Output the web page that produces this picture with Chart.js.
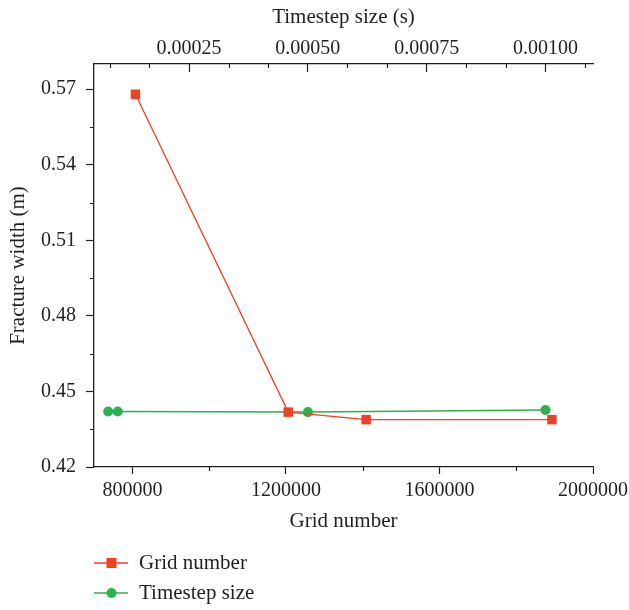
<!DOCTYPE html>
<html>
<head>
<meta charset="utf-8">
<script src="https://cdn.jsdelivr.net/npm/chart.js@4.4.0/dist/chart.umd.min.js"></script>
<style>
  html, body { margin: 0; padding: 0; background: #fff; }
  #wrap { width: 629px; height: 610px; }
</style>
</head>
<body>
<div id="wrap"><canvas id="chart" width="629" height="610"></canvas></div>
<script>
// grid-independence series (bottom axis)
const gridNumbers = [808000, 1206000, 1409000, 1893000];
const gridWidths = [0.568, 0.4418, 0.4388, 0.4388];
// timestep-independence series (top axis)
const timesteps = [0.00008, 0.0001, 0.0005, 0.001];
const timestepWidths = [0.4420, 0.4420, 0.4418, 0.4426];

// tick marks
const gridTicks = [800000, 1200000, 1600000, 2000000];
const gridMinorTicks = [1000000, 1400000, 1800000];
const timeTicks = [0.00025, 0.0005, 0.00075, 0.001];
const timeMinorTicks = [0.0000833, 0.0001667, 0.0003333, 0.0004167, 0.0005833,
  0.0006667, 0.0008333, 0.0009167, 0.0010833];
const widthTicks = [0.42, 0.45, 0.48, 0.51, 0.54, 0.57];
const widthMinorTicks = [0.435, 0.465, 0.495, 0.525, 0.555];

const ink = "#231f20";
const red = "#ef4123";
const green = "#2bb24c";
const serif = "'Liberation Serif', 'DejaVu Serif', serif";
const tickFont = { family: serif, size: 20 };
const titleFont = { family: serif, size: 21 };

const minorTicks = {
  id: "minorTicks",
  afterDraw(chart) {
    const ctx = chart.ctx;
    const { x, x2, y } = chart.scales;
    ctx.save();
    ctx.strokeStyle = ink;
    ctx.lineWidth = 1.2;
    ctx.beginPath();
    gridMinorTicks.forEach((v) => {
      const px = Math.round(x.getPixelForValue(v)) + 0.5;
      ctx.moveTo(px, x.top);
      ctx.lineTo(px, x.top + 4);
    });
    timeMinorTicks.forEach((v) => {
      const px = Math.round(x2.getPixelForValue(v)) + 0.5;
      ctx.moveTo(px, x2.bottom);
      ctx.lineTo(px, x2.bottom + 4);
    });
    widthMinorTicks.forEach((v) => {
      const py = Math.round(y.getPixelForValue(v)) + 0.5;
      ctx.moveTo(y.right, py);
      ctx.lineTo(y.right - 4, py);
    });
    ctx.stroke();
    ctx.restore();
  },
};

const stackedLegend = {
  id: "stackedLegend",
  afterDraw(chart) {
    const ctx = chart.ctx;
    ctx.save();
    chart.data.datasets.forEach((ds, i) => {
      const rowY = 563 + i * 30;
      ctx.strokeStyle = ds.borderColor;
      ctx.lineWidth = ds.borderWidth;
      ctx.beginPath();
      ctx.moveTo(94, rowY);
      ctx.lineTo(128, rowY);
      ctx.stroke();
      ctx.fillStyle = ds.backgroundColor;
      ctx.beginPath();
      if (ds.pointStyle === "rect") {
        ctx.rect(111.5 - 5, rowY - 5, 10, 10);
      } else {
        ctx.arc(111.5, rowY, 5, 0, Math.PI * 2);
      }
      ctx.fill();
      ctx.fillStyle = ink;
      ctx.font = `21px ${serif}`;
      ctx.textBaseline = "middle";
      ctx.textAlign = "left";
      ctx.fillText(ds.label, 139, rowY);
    });
    ctx.restore();
  },
};

new Chart(document.getElementById("chart"), {
  type: "line",
  data: {
    datasets: [
      {
        label: "Grid number",
        data: gridNumbers.map((g, i) => ({ x: g, y: gridWidths[i] })),
        xAxisID: "x",
        borderColor: red,
        backgroundColor: red,
        borderWidth: 1.3,
        pointStyle: "rect",
        pointRadius: 6.7,
        pointBorderWidth: 0,
        tension: 0,
      },
      {
        label: "Timestep size",
        data: timesteps.map((t, i) => ({ x: t, y: timestepWidths[i] })),
        xAxisID: "x2",
        borderColor: green,
        backgroundColor: green,
        borderWidth: 1.5,
        pointStyle: "circle",
        pointRadius: 5,
        pointBorderWidth: 0,
        tension: 0,
      },
    ],
  },
  options: {
    responsive: false,
    animation: false,
    layout: { padding: { left: 0, right: 36, top: 0, bottom: 76 } },
    plugins: {
      legend: { display: false },
      tooltip: { enabled: false },
    },
    scales: {
      x: {
        type: "linear",
        position: "bottom",
        min: 700000,
        max: 2000000,
        afterBuildTicks: (s) => { s.ticks = gridTicks.map((v) => ({ value: v })); },
        afterFit: (s) => { s.height = 67; s.paddingLeft = 0; s.paddingRight = 0; },
        ticks: { callback: (v) => String(v), font: tickFont, color: ink, padding: 5, maxRotation: 0, autoSkip: false },
        grid: { drawOnChartArea: false, tickLength: 7, tickWidth: 1.2, color: ink },
        border: { color: ink, width: 1.3 },
        title: { display: true, text: "Grid number", font: titleFont, color: ink, padding: { top: 0, bottom: 0 } },
      },
      x2: {
        type: "linear",
        position: "top",
        min: 0.00005,
        max: 0.0011,
        afterBuildTicks: (s) => { s.ticks = timeTicks.map((v) => ({ value: v })); },
        afterFit: (s) => { s.height = 64; s.paddingLeft = 0; s.paddingRight = 0; },
        ticks: { callback: (v) => v.toFixed(5), font: tickFont, color: ink, padding: 11, maxRotation: 0, autoSkip: false },
        grid: { drawOnChartArea: false, tickLength: -8, tickWidth: 1.2, color: ink },
        border: { color: ink, width: 1.3 },
        title: { display: true, text: "Timestep size (s)", font: titleFont, color: ink, padding: { top: 5, bottom: 0 } },
      },
      y: {
        type: "linear",
        position: "left",
        min: 0.42,
        max: 0.58,
        afterBuildTicks: (s) => { s.ticks = widthTicks.map((v) => ({ value: v })); },
        afterFit: (s) => { s.width = 94; },
        ticks: { callback: (v) => v.toFixed(2), font: tickFont, color: ink, padding: 10, autoSkip: false },
        grid: { drawOnChartArea: false, tickLength: 8, tickWidth: 1.2, color: ink },
        border: { color: ink, width: 1.3 },
        title: { display: true, text: "Fracture width (m)", font: titleFont, color: ink, padding: { top: 6, bottom: 0 } },
      },
    },
  },
  plugins: [minorTicks, stackedLegend],
});
</script>
</body>
</html>
